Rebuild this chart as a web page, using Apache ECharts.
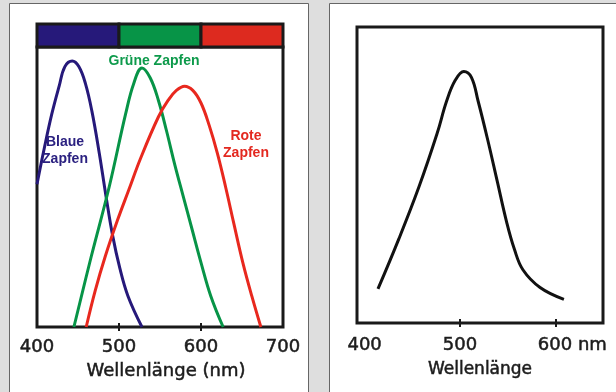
<!DOCTYPE html>
<html>
<head>
<meta charset="utf-8">
<script src="https://cdn.jsdelivr.net/npm/echarts@6/dist/echarts.min.js"></script>
<style>
  html, body { margin: 0; padding: 0; background: #dedede; }
  #main { width: 616px; height: 392px; }
</style>
</head>
<body>
<div id="main"></div>
<script>
// Zapfen-Empfindlichkeit (links), Hellempfindlichkeit des Auges (rechts)
let blueNm  = [400, 409, 418, 427, 434, 443, 451, 459, 467, 476, 484, 492, 501, 511, 528];
let blueVal = [51, 64, 76, 86, 93, 95, 93, 87, 77, 62, 47, 33, 21, 11, 0];

let greenNm  = [445, 466, 488, 508, 518, 528, 538, 548, 558, 568, 578, 589, 600, 612, 627];
let greenVal = [0, 25, 50, 76, 87, 92.5, 89, 81, 70, 58, 47, 35, 23, 11, 0];

let redNm  = [460, 471, 483, 498, 512, 526, 548, 560, 570, 580, 590, 600, 610, 620, 630, 640, 651, 662, 673];
let redVal = [0, 13, 25, 38, 49, 60, 75, 81, 84.5, 86, 84.5, 80, 72, 62, 50, 37, 23, 11, 0];

let eyeNm  = [414, 436, 457, 476, 486, 495, 504, 512, 519, 529, 539, 549, 557, 566, 584, 609];
let eyeVal = [11.5, 28.5, 46, 64, 75, 82, 85, 83, 75, 62, 48, 34, 25, 18, 12, 8];

// Farbleiste oben
let bandStart  = [400, 500, 600];
let bandEnd    = [500, 600, 700];
let bandColors = ['#26197a', '#079447', '#dd2a1f'];

let leftLabels  = [400, 500, 600, 700];
let rightLabels = [400, 500, 600];
let tickValues  = [500, 600];

function pairs(xs, ys) {
    return xs.map((x, i) => [x, ys[i]]);
}

let font = 'DejaVu Sans';
let frame = '#1a1a1a';
let ink = '#1c1c1c';

function curve(name, xs, ys, color, idx) {
    return {
        name: name,
        type: 'line',
        xAxisIndex: idx,
        yAxisIndex: idx,
        data: pairs(xs, ys),
        smooth: 0.4,
        showSymbol: false,
        lineStyle: { color: color, width: 3 },
        z: 3
    };
}

let myChart = echarts.init(document.getElementById('main'));

let textBold = { textBorderColor: ink, textBorderWidth: 0.5 };

let option = {
    backgroundColor: '#dedede',
    animation: false,
    grid: [
        { left: 37, width: 246, top: 47, bottom: 65, show: true, borderColor: frame, borderWidth: 3 },
        { left: 357, width: 246, top: 27, bottom: 69, show: true, borderColor: frame, borderWidth: 3 },
        { left: 37, width: 246, top: 24, height: 23 }
    ],
    xAxis: [
        {
            gridIndex: 0, type: 'value', min: 400, max: 700, interval: 100,
            axisLine: { show: false },
            splitLine: { show: false },
            axisTick: { customValues: tickValues, length: 4, lineStyle: { color: frame, width: 2 } },
            axisLabel: Object.assign({ customValues: leftLabels, fontSize: 18, color: ink, margin: 11, fontFamily: font }, textBold),
            name: 'Wellenlänge (nm)', nameLocation: 'middle', nameGap: 35,
            nameTextStyle: Object.assign({ fontSize: 18, color: ink, fontFamily: font, padding: [0, 0, 0, 12] }, textBold)
        },
        {
            gridIndex: 1, type: 'value', min: 392, max: 650, interval: 100,
            axisLine: { show: false },
            splitLine: { show: false },
            axisTick: { customValues: tickValues, length: 4, lineStyle: { color: frame, width: 2 } },
            axisLabel: Object.assign({
                customValues: rightLabels, fontSize: 18, color: ink, margin: 13, fontFamily: font,
                formatter: v => v === 600 ? '{u|600 nm}' : String(v),
                rich: { u: Object.assign({ fontSize: 18, color: ink, fontFamily: font, padding: [0, 0, 0, 34] }, textBold) }
            }, textBold),
            name: 'Wellenlänge', nameLocation: 'middle', nameGap: 38,
            nameTextStyle: Object.assign({ fontSize: 17, color: ink, fontFamily: font }, textBold)
        },
        { gridIndex: 2, type: 'value', min: 400, max: 700, show: false },
        // Ticks nach innen
        {
            gridIndex: 0, type: 'value', min: 400, max: 700, position: 'bottom',
            axisLine: { show: false }, axisLabel: { show: false }, splitLine: { show: false },
            axisTick: { inside: true, customValues: tickValues, length: 4, lineStyle: { color: frame, width: 2 } }
        },
        {
            gridIndex: 1, type: 'value', min: 392, max: 650, position: 'bottom',
            axisLine: { show: false }, axisLabel: { show: false }, splitLine: { show: false },
            axisTick: { inside: true, customValues: tickValues, length: 4, lineStyle: { color: frame, width: 2 } }
        }
    ],
    yAxis: [
        { gridIndex: 0, type: 'value', min: 0, max: 100, show: false },
        { gridIndex: 1, type: 'value', min: 0, max: 100, show: false },
        { gridIndex: 2, type: 'value', min: 0, max: 1, show: false }
    ],
    graphic: [
        { type: 'rect', z: -10, shape: { x: 9.5, y: 3.5, width: 299, height: 400 }, style: { fill: '#fff', stroke: '#666', lineWidth: 1 } },
        { type: 'rect', z: -10, shape: { x: 329.5, y: 3.5, width: 300, height: 400 }, style: { fill: '#fff', stroke: '#666', lineWidth: 1 } },
        {
            type: 'text', x: 154, y: 61, z: 10,
            style: { text: 'Grüne Zapfen', fill: '#0d9a4b', font: 'bold 14px "Liberation Sans"', align: 'center', verticalAlign: 'middle' }
        },
        {
            type: 'text', x: 65, y: 151, z: 10,
            style: { text: 'Blaue\nZapfen', fill: '#2b2180', font: 'bold 14px "Liberation Sans"', lineHeight: 17, align: 'center', verticalAlign: 'middle' }
        },
        {
            type: 'text', x: 246, y: 145, z: 10,
            style: { text: 'Rote\nZapfen', fill: '#e3281f', font: 'bold 14px "Liberation Sans"', lineHeight: 17, align: 'center', verticalAlign: 'middle' }
        }
    ],
    series: [
        curve('Blaue Zapfen', blueNm, blueVal, '#26197a', 0),
        curve('Grüne Zapfen', greenNm, greenVal, '#079447', 0),
        curve('Rote Zapfen', redNm, redVal, '#e8281e', 0),
        curve('Auge', eyeNm, eyeVal, '#111', 1),
        {
            type: 'custom',
            xAxisIndex: 2,
            yAxisIndex: 2,
            data: bandStart.map((s, i) => [s, bandEnd[i], i]),
            renderItem: (params, api) => {
                let p0 = api.coord([api.value(0), 1]);
                let p1 = api.coord([api.value(1), 0]);
                return {
                    type: 'rect',
                    shape: { x: p0[0], y: p0[1], width: p1[0] - p0[0], height: p1[1] - p0[1] },
                    style: { fill: bandColors[api.value(2)], stroke: frame, lineWidth: 3 }
                };
            }
        }
    ]
};

myChart.setOption(option);
</script>
</body>
</html>
